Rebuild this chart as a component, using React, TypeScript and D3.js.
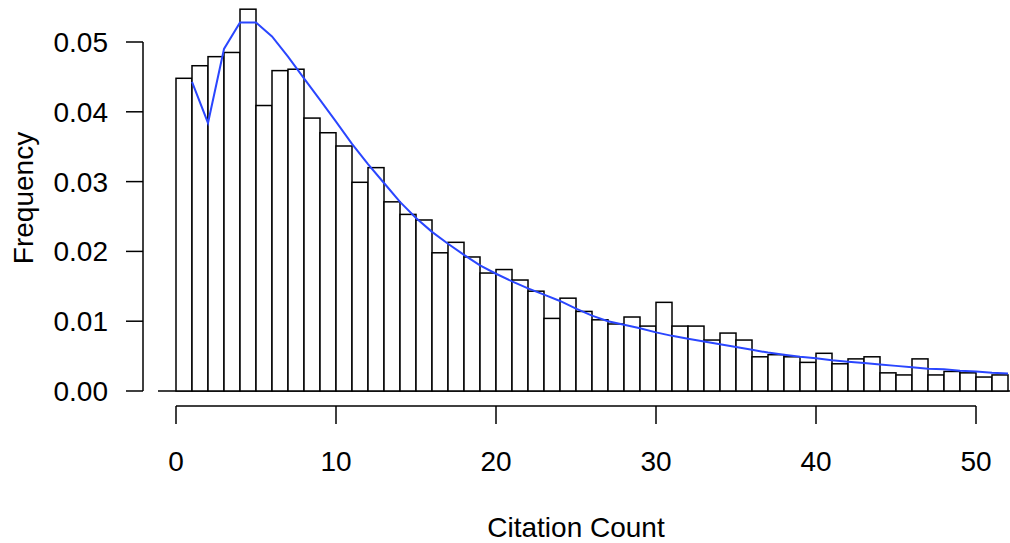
import React from "react";
import * as d3 from "d3";

// Histogram bins: [binStart, binStart+1)
const binStarts: number[] = Array.from({ length: 52 }, (_, i) => i);
const frequencies: number[] = [
  0.0448, 0.0466, 0.0479, 0.0485, 0.0547, 0.0409, 0.0459, 0.0461, 0.0391, 0.0370,
  0.0351, 0.0299, 0.0320, 0.0271, 0.0253, 0.0245, 0.0198, 0.0213, 0.0192, 0.0169,
  0.0174, 0.0159, 0.0143, 0.0104, 0.0133, 0.0114, 0.0102, 0.0096, 0.0106, 0.0093,
  0.0127, 0.0093, 0.0093, 0.0073, 0.0083, 0.0073, 0.0049, 0.0052, 0.0049, 0.0041,
  0.0054, 0.0039, 0.0046, 0.0049, 0.0026, 0.0023, 0.0046, 0.0023, 0.0028, 0.0026,
  0.0020, 0.0023,
];

// Fitted curve evaluated at integer citation counts 1..52
const curveX: number[] = Array.from({ length: 52 }, (_, i) => i + 1);
const curveY: number[] = [
  0.0443, 0.0384, 0.0490, 0.0528, 0.0528, 0.0508, 0.0479, 0.0448, 0.0417, 0.0386,
  0.0354, 0.0325, 0.0298, 0.0271, 0.0248, 0.0228, 0.0211, 0.0195, 0.0180, 0.0168,
  0.0157, 0.0147, 0.0138, 0.0129, 0.0118, 0.0108, 0.0100, 0.0095, 0.0090, 0.0084,
  0.0079, 0.0075, 0.0071, 0.0067, 0.0063, 0.0059, 0.0055, 0.0052, 0.0049, 0.0047,
  0.0044, 0.0042, 0.0040, 0.0038, 0.0036, 0.0034, 0.0032, 0.0031, 0.0029, 0.0028,
  0.0026, 0.0025,
];

const xTicks: number[] = [0, 10, 20, 30, 40, 50];
const yTicks: number[] = [0, 0.01, 0.02, 0.03, 0.04, 0.05];

const W = 1010;
const H = 543;
const FONT = "'Liberation Sans', Arial, Helvetica, sans-serif";
const FS = 28;

export default function App() {
  const x = d3.scaleLinear().domain([0, 50]).range([176, 976]);
  const y = d3.scaleLinear().domain([0, 0.05]).range([391, 42]);

  const line = d3
    .line<number>()
    .x((_, i) => x(curveX[i]))
    .y((d) => y(d));

  const yAxisX = 143;
  const xAxisY = 406;

  return (
    <svg
      width={W}
      height={H}
      style={{ position: "absolute", left: 0, top: 0, background: "#fff" }}
      fontFamily={FONT}
    >
      <rect x={0} y={0} width={W} height={H} fill="#fff" />
      {/* baseline */}
      <line x1={158} x2={W} y1={y(0)} y2={y(0)} stroke="#000" strokeWidth={1.5} />
      {/* bars */}
      {frequencies.map((f, i) => (
        <rect
          key={i}
          x={x(binStarts[i])}
          y={y(f)}
          width={x(binStarts[i] + 1) - x(binStarts[i])}
          height={y(0) - y(f)}
          fill="#fff"
          stroke="#000"
          strokeWidth={1.5}
        />
      ))}
      {/* curve */}
      <path d={line(curveY) || ""} fill="none" stroke="#2a46ff" strokeWidth={2} />

      {/* y axis */}
      <line x1={yAxisX} x2={yAxisX} y1={y(0)} y2={y(0.05)} stroke="#000" strokeWidth={1.5} />
      {yTicks.map((t) => (
        <g key={t}>
          <line x1={yAxisX - 17} x2={yAxisX} y1={y(t)} y2={y(t)} stroke="#000" strokeWidth={1.5} />
          <text x={108} y={y(t) + 10} textAnchor="end" fontSize={FS} fill="#000">
            {t.toFixed(2)}
          </text>
        </g>
      ))}
      <text
        transform={`translate(33,198) rotate(-90)`}
        textAnchor="middle"
        fontSize={FS}
        fill="#000"
      >
        Frequency
      </text>

      {/* x axis */}
      <line x1={x(0)} x2={x(50)} y1={xAxisY} y2={xAxisY} stroke="#000" strokeWidth={1.5} />
      {xTicks.map((t) => (
        <g key={t}>
          <line x1={x(t)} x2={x(t)} y1={xAxisY} y2={xAxisY + 18} stroke="#000" strokeWidth={1.5} />
          <text x={x(t)} y={471} textAnchor="middle" fontSize={FS} fill="#000">
            {t}
          </text>
        </g>
      ))}
      <text x={576} y={537} textAnchor="middle" fontSize={FS} fill="#000">
        Citation Count
      </text>
    </svg>
  );
}
